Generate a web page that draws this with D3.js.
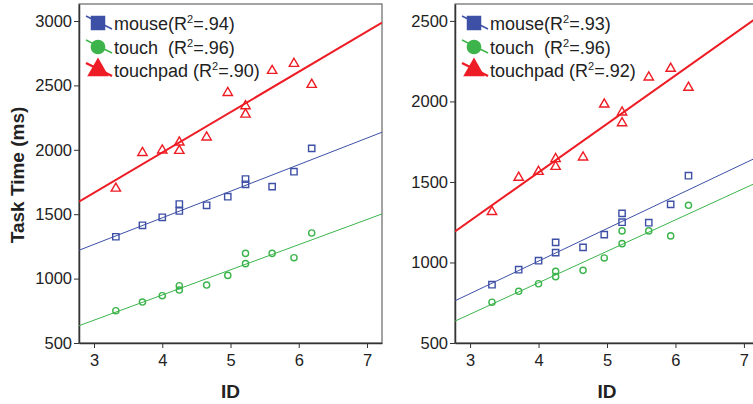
<!DOCTYPE html>
<html>
<head>
<meta charset="utf-8">
<script src="https://cdn.jsdelivr.net/npm/d3@7"></script>
<style>
  body { margin: 0; background: #fff; }
  svg { font-family: Arial, "Liberation Sans", sans-serif; }
</style>
</head>
<body>
<svg id="chart" width="753" height="404"></svg>
<script>
// index of difficulty per condition (shared by both panels)
let ids = [3.32, 3.71, 4.0, 4.25, 4.25, 4.65, 4.96, 5.22, 5.22, 5.61, 5.93, 6.19];

// left panel task times (ms)
let leftMouse    = [1325, 1414, 1476, 1579, 1525, 1569, 1636, 1773, 1732, 1714, 1830, 2011];
let leftTouch    = [751, 818, 867, 945, 911, 950, 1025, 1196, 1116, 1196, 1162, 1354];
let leftTouchpad = [1700, 1977, 1996, 2058, 1993, 2097, 2443, 2340, 2275, 2614, 2669, 2506];

// right panel task times (ms)
let rightMouse    = [862, 955, 1011, 1125, 1061, 1094, 1173, 1305, 1250, 1247, 1361, 1539];
let rightTouch    = [753, 821, 868, 945, 912, 951, 1028, 1196, 1117, 1196, 1165, 1355];
let rightTouchpad = [1315, 1527, 1564, 1643, 1595, 1653, 1982, 1933, 1866, 2150, 2204, 2086];

let seriesNames = ["mouse", "touch", "touchpad"];
let leftR2  = [".94", ".96", ".90"];
let rightR2 = [".93", ".96", ".92"];

let xTicks = [3, 4, 5, 6, 7];
let leftYTicks  = [500, 1000, 1500, 2000, 2500, 3000];
let rightYTicks = [500, 1000, 1500, 2000, 2500];

let colors = { mouse: "#3d50a6", touch: "#3cb44b", touchpad: "#ee1c24" };

let svg = d3.select("#chart");

// simple least squares fit
let fit = function (xs, ys) {
  let mx = d3.mean(xs), my = d3.mean(ys);
  let num = d3.sum(xs, (x, i) => (x - mx) * (ys[i] - my));
  let den = d3.sum(xs, x => (x - mx) * (x - mx));
  let b = num / den;
  return { a: my - b * mx, b: b };
}

let drawPanel = function (opts) {
  let g = svg.append("g");
  let x = d3.scaleLinear().domain([2.78, 7.22]).range([opts.left, opts.right]);
  let y = d3.scaleLinear().domain(opts.yDomain).range([343, 4]);

  // frame
  g.append("rect")
    .attr("x", opts.left).attr("y", 4)
    .attr("width", opts.right - opts.left).attr("height", 339)
    .attr("fill", "none").attr("stroke", "#666").attr("stroke-width", 1.2);

  let yAxis = d3.axisLeft(y).tickValues(opts.yTicks).tickFormat(d3.format("d"))
    .tickSize(5).tickSizeOuter(0).tickPadding(2);
  let yg = g.append("g").attr("transform", "translate(" + opts.left + ",0)").call(yAxis);
  yg.select(".domain").attr("stroke", "#333").attr("stroke-width", 1.5);
  yg.selectAll(".tick line").attr("stroke", "#333");
  yg.selectAll("text").attr("font-size", 16.5).attr("fill", "#222").attr("font-family", "Arial, 'Liberation Sans', sans-serif");

  let xAxis = d3.axisBottom(x).tickValues(xTicks).tickFormat(d3.format("d"))
    .tickSize(5).tickSizeOuter(0).tickPadding(6);
  let xg = g.append("g").attr("transform", "translate(0,343)").call(xAxis);
  xg.select(".domain").attr("stroke", "#333").attr("stroke-width", 1.5);
  xg.selectAll(".tick line").attr("stroke", "#333");
  xg.selectAll("text").attr("font-size", 16.5).attr("fill", "#222").attr("font-family", "Arial, 'Liberation Sans', sans-serif");

  g.append("text")
    .attr("x", x(5)).attr("y", 398)
    .attr("text-anchor", "middle")
    .attr("font-size", 19).attr("font-weight", "bold").attr("fill", "#222")
    .text("ID");

  let clip = "clip" + opts.left;
  g.append("clipPath").attr("id", clip).append("rect")
    .attr("x", opts.left).attr("y", 4)
    .attr("width", opts.right - opts.left).attr("height", 339);

  let plot = g.append("g").attr("clip-path", "url(#" + clip + ")");

  let shapes = { mouse: d3.symbolSquare, touch: d3.symbolCircle, touchpad: d3.symbolTriangle };
  let sizes = { mouse: 40, touch: 30, touchpad: 38 };
  let widths = { mouse: 1, touch: 1, touchpad: 2 };

  seriesNames.forEach((name, k) => {
    let vals = opts.data[k];
    let f = fit(ids, vals);
    plot.append("line")
      .attr("x1", x(2.78)).attr("y1", y(f.a + f.b * 2.78))
      .attr("x2", x(7.22)).attr("y2", y(f.a + f.b * 7.22))
      .attr("stroke", colors[name]).attr("stroke-width", widths[name]);

    plot.selectAll(".pt-" + name)
      .data(vals)
      .enter().append("path")
      .attr("class", "pt-" + name)
      .attr("transform", (d, i) => "translate(" + x(ids[i]) + "," + y(d) + ")")
      .attr("d", d3.symbol().type(shapes[name]).size(sizes[name]))
      .attr("fill", "none")
      .attr("stroke", colors[name])
      .attr("stroke-width", 1.4);
  });

  // legend
  let lg = g.append("g").attr("transform", "translate(" + (opts.left + 19) + ",0)");
  let rowY = [23, 47, 70];
  let legSizes = { mouse: 210, touch: 170, touchpad: 200 };
  seriesNames.forEach((name, k) => {
    lg.append("line")
      .attr("x1", -12).attr("y1", rowY[k] - 7)
      .attr("x2", 14).attr("y2", rowY[k] + 6)
      .attr("stroke", colors[name]).attr("stroke-width", widths[name] + 0.5);
    lg.append("path")
      .attr("transform", "translate(0," + rowY[k] + ")")
      .attr("d", d3.symbol().type(shapes[name]).size(legSizes[name]))
      .attr("fill", colors[name]);
    let t = lg.append("text")
      .attr("x", 16).attr("y", rowY[k] + 7)
      .attr("font-size", 18).attr("fill", "#222");
    t.append("tspan").text(name);
    let ts = t.append("tspan");
    if (name != "touchpad") { ts.attr("x", 70); } else { ts.attr("dx", 5); }
    ts.text("(R");
    t.append("tspan").attr("font-size", 11).attr("dy", -7).text("2");
    t.append("tspan").attr("dy", 7).text("=" + opts.r2[k] + ")");
  });
}

drawPanel({ left: 79, right: 382, yDomain: [500, 3132], yTicks: leftYTicks,
  data: [leftMouse, leftTouch, leftTouchpad], r2: leftR2 });
drawPanel({ left: 455, right: 759, yDomain: [500, 2605], yTicks: rightYTicks,
  data: [rightMouse, rightTouch, rightTouchpad], r2: rightR2 });

svg.append("text")
  .attr("transform", "translate(24,175) rotate(-90)")
  .attr("text-anchor", "middle")
  .attr("font-size", 19).attr("font-weight", "bold").attr("fill", "#222")
  .text("Task Time (ms)");
</script>
</body>
</html>
